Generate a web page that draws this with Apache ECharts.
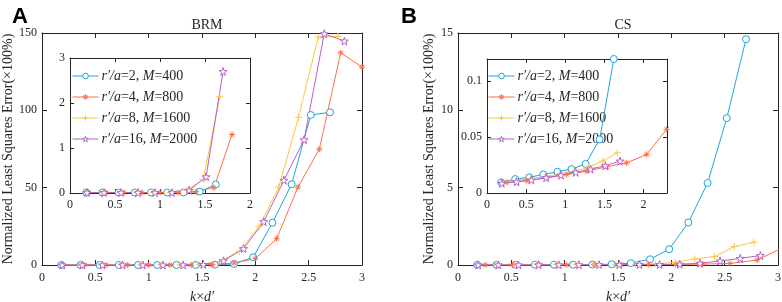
<!DOCTYPE html>
<html>
<head>
<meta charset="utf-8">
<script src="https://cdn.jsdelivr.net/npm/echarts@6/dist/echarts.min.js"></script>
<style>
  html, body { margin: 0; padding: 0; background: #fff; }
  #chart { width: 782px; height: 302px; }
</style>
</head>
<body>
<div id="chart"></div>
<script>
// k x d' sample positions of each series
var kdBlue = [0.18, 0.36, 0.54, 0.72, 0.9, 1.08, 1.26, 1.44, 1.62, 1.8, 1.98, 2.16, 2.34, 2.52, 2.7];
var kdOrangeA = [0.2, 0.4, 0.6, 0.8, 1.0, 1.2, 1.4, 1.6, 1.8, 2.0, 2.2, 2.4, 2.6, 2.8, 3.0];
var kdOrangeB = [0.255, 0.51, 0.765, 1.02, 1.275, 1.53, 1.785, 2.04, 2.295, 2.55, 2.805, 3.06];
var kdYellow = [0.185, 0.37, 0.555, 0.74, 0.925, 1.11, 1.295, 1.48, 1.665, 1.85, 2.035, 2.22, 2.405, 2.59, 2.775];
var kdPurple = [0.189, 0.378, 0.567, 0.756, 0.945, 1.134, 1.323, 1.512, 1.701, 1.89, 2.079, 2.268, 2.457, 2.646, 2.835];

// BRM errors (x100%)
var brmBlue = [0.01, 0.01, 0.01, 0.01, 0.01, 0.01, 0.01, 0.03, 0.19, 0.7, 5.0, 27.3, 52.2, 97, 98.7];
var brmOrange = [0.01, 0.01, 0.01, 0.01, 0.01, 0.01, 0.03, 0.12, 1.3, 4.2, 17, 50.4, 74.9, 137.2, 128];
var brmYellow = [0.01, 0.01, 0.01, 0.01, 0.01, 0.01, 0.06, 0.3, 2.14, 8.9, 24.7, 50.4, 95.5, 147.4, 147.8];
var brmPurple = [0.01, 0.01, 0.01, 0.01, 0.01, 0.01, 0.06, 0.36, 2.7, 10.6, 28, 54.8, 81, 149.5, 144.8];

// CS errors (x100%)
var csBlue = [0.0095, 0.0125, 0.014, 0.0167, 0.019, 0.0214, 0.026, 0.048, 0.12, 0.37, 1.02, 2.75, 5.3, 9.5, 14.6];
var csOrange = [0.0095, 0.011, 0.0135, 0.0165, 0.0195, 0.0235, 0.027, 0.0345, 0.057, 0.1, 0.32, 1.17];
var csYellow = [0.0095, 0.011, 0.013, 0.0148, 0.017, 0.0195, 0.023, 0.0286, 0.036, 0.07, 0.17, 0.39, 0.54, 1.19, 1.47];
var csPurple = [0.0087, 0.0101, 0.0116, 0.0137, 0.016, 0.0185, 0.0214, 0.0244, 0.0286, 0.035, 0.05, 0.11, 0.26, 0.43, 0.61];

var names = ["r′/a=2, M=400", "r′/a=4, M=800", "r′/a=8, M=1600", "r′/a=16, M=2000"];
var richNames = {
  "r′/a=2, M=400": "{i|r′/a}=2, {i|M}=400",
  "r′/a=4, M=800": "{i|r′/a}=4, {i|M}=800",
  "r′/a=8, M=1600": "{i|r′/a}=8, {i|M}=1600",
  "r′/a=16, M=2000": "{i|r′/a}=16, {i|M}=2000"
};
var insetPoints = 9;

var colors = ["#1ea4dc", "#ff6e48", "#ffc642", "#b561cc"];
var symbols = [
  "circle",
  "path://M0,5L10,5M5,0L5,10M1.5,1.5L8.5,8.5M8.5,1.5L1.5,8.5",
  "path://M0,5L10,5M5,0L5,10",
  "path://M5,0L6.12,3.46L9.76,3.46L6.82,5.59L7.94,9.05L5,6.91L2.06,9.05L3.18,5.59L0.24,3.46L3.88,3.46Z"
];
var symbolSizes = [7, 6, 7, 8];

var serif = "Liberation Serif";
var ink = "#262626";

var grids = [
  { left: 42, top: 33, width: 320, height: 232, outerBoundsMode: "none" },
  { left: 70, top: 58, width: 180, height: 135, backgroundColor: "#fff", show: true, borderWidth: 0, outerBoundsMode: "none" },
  { left: 458, top: 33, width: 320, height: 232, outerBoundsMode: "none" },
  { left: 487, top: 59, width: 180, height: 134, backgroundColor: "#fff", show: true, borderWidth: 0, outerBoundsMode: "none" }
];

var xAxes = [];
var yAxes = [];

function addAxes(gi, xr, yr, extra) {
  var tickLen = extra.tickLen;
  var lab = { fontFamily: serif, fontSize: 12, color: ink };
  var base = {
    gridIndex: gi, type: "value",
    axisLine: { show: true, onZero: false, lineStyle: { color: ink, width: 1 } },
    axisTick: { show: true, inside: true, length: tickLen, lineStyle: { color: ink } },
    splitLine: { show: false }
  };
  xAxes.push(Object.assign({}, base, {
    position: "bottom", min: xr[0], max: xr[1], interval: xr[2],
    axisLabel: Object.assign({ margin: extra.xMargin, showMaxLabel: extra.xShowMax }, lab),
    name: extra.xName || "", nameLocation: "middle", nameGap: 25,
    nameTextStyle: { fontFamily: serif, fontSize: 14, color: ink, rich: { i: { fontStyle: "italic", fontFamily: serif, fontSize: 14, color: ink } } }
  }));
  xAxes.push(Object.assign({}, base, {
    position: "top", min: xr[0], max: xr[1], interval: xr[2], axisLabel: { show: false }
  }));
  yAxes.push(Object.assign({}, base, {
    position: "left", min: yr[0], max: yr[1], interval: yr[2],
    axisLabel: Object.assign({ margin: 5, showMaxLabel: extra.yShowMax }, lab),
    name: extra.yName || "", nameLocation: "middle", nameGap: extra.yGap || 20,
    nameTextStyle: { fontFamily: serif, fontSize: 14, color: ink }
  }));
  yAxes.push(Object.assign({}, base, {
    position: "right", min: yr[0], max: yr[1], interval: yr[2], axisLabel: { show: false }
  }));
}

var yName = "Normalized Least Squares Error(×100%)";
addAxes(0, [0, 3, 0.5], [0, 150, 50], { tickLen: 5, xMargin: 7, xShowMax: true, yShowMax: true, xName: "{i|k}×{i|d′}", yName: yName, yGap: 25 });
addAxes(1, [0, 2, 0.5], [0, 3, 1], { tickLen: 4, xMargin: 6, xShowMax: true, yShowMax: true });
addAxes(2, [0, 3, 0.5], [0, 15, 5], { tickLen: 5, xMargin: 7, xShowMax: true, yShowMax: true, xName: "{i|k}×{i|d′}", yName: yName, yGap: 22 });
addAxes(3, [0, 2.3, 0.5], [0, 0.12, 0.05], { tickLen: 4, xMargin: 6, xShowMax: false, yShowMax: false });

function pairs(xs, ys, n) {
  var out = [];
  var len = Math.min(xs.length, ys.length, n || Infinity);
  for (var i = 0; i < len; i++) out.push([xs[i], ys[i]]);
  return out;
}

function mkSeries(k, gi, data) {
  return {
    name: names[k], type: "line", xAxisIndex: gi * 2, yAxisIndex: gi * 2,
    data: data, symbol: symbols[k], symbolSize: symbolSizes[k], showAllSymbol: true,
    clip: true, z: 3 + gi,
    lineStyle: { color: colors[k], width: 1 },
    itemStyle: { color: "#fff", borderColor: colors[k], borderWidth: 1 },
    emphasis: { disabled: true }
  };
}

var kdA = [kdBlue, kdOrangeA, kdYellow, kdPurple];
var kdB = [kdBlue, kdOrangeB, kdYellow, kdPurple];
var valsA = [brmBlue, brmOrange, brmYellow, brmPurple];
var valsB = [csBlue, csOrange, csYellow, csPurple];

var series = [];
for (var k = 0; k < 4; k++) {
  series.push(mkSeries(k, 0, pairs(kdA[k], valsA[k])));
  series.push(mkSeries(k, 1, pairs(kdA[k], valsA[k], insetPoints)));
  series.push(mkSeries(k, 2, pairs(kdB[k], valsB[k])));
  series.push(mkSeries(k, 3, pairs(kdB[k], valsB[k], insetPoints)));
}

function mkLegend(left, top) {
  return {
    data: names, orient: "vertical", left: left, top: top,
    itemWidth: 26, itemHeight: 7, itemGap: 7, padding: 0,
    selectedMode: false,
    itemStyle: { borderWidth: 1 },
    lineStyle: { width: 1 },
    formatter: function (n) { return richNames[n]; },
    textStyle: {
      fontFamily: serif, fontSize: 14, color: ink, padding: [0, 0, 0, -2],
      rich: { i: { fontFamily: serif, fontSize: 14, fontStyle: "italic", color: ink } }
    }
  };
}

var chart = echarts.init(document.getElementById("chart"));
chart.setOption({
  animation: false,
  backgroundColor: "#fff",
  title: [
    { text: "BRM", left: 202, top: 13, textAlign: "center", textStyle: { fontFamily: serif, fontSize: 14, fontWeight: "normal", color: ink } },
    { text: "CS", left: 618, top: 13, textAlign: "center", textStyle: { fontFamily: serif, fontSize: 14, fontWeight: "normal", color: ink } },
    { text: "A", left: 7, top: 1, textStyle: { fontFamily: "Liberation Sans", fontSize: 22, fontWeight: "bold", color: "#000" } },
    { text: "B", left: 396, top: 1, textStyle: { fontFamily: "Liberation Sans", fontSize: 22, fontWeight: "bold", color: "#000" } }
  ],
  grid: grids,
  xAxis: xAxes,
  yAxis: yAxes,
  legend: [mkLegend(72, 69), mkLegend(488, 69)],
  series: series
});
</script>
</body>
</html>
